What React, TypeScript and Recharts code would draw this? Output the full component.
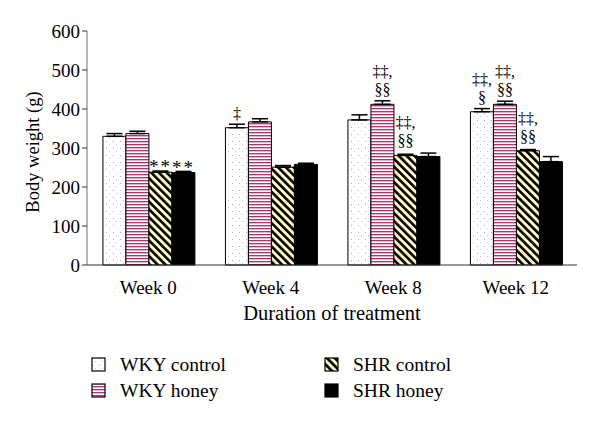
import React from 'react';
import {
  BarChart,
  Bar,
  XAxis,
  YAxis,
  ErrorBar,
  LabelList,
  Legend,
} from 'recharts';

const WEEKS = ['Week 0', 'Week 4', 'Week 8', 'Week 12'];
const Y_TICKS = [0, 100, 200, 300, 400, 500, 600];
const BOUND_TICKS = [0, 1, 2, 3, 4];

// mean body weight (g)
const WKY_CONTROL = [330, 352, 372, 393];
const WKY_HONEY = [337, 367, 412, 412];
const SHR_CONTROL = [238, 251, 281, 293];
const SHR_HONEY = [237, 258, 278, 265];

// upper error (g)
const WKY_CONTROL_ERR = [7, 9, 13, 8];
const WKY_HONEY_ERR = [6, 8, 9, 8];
const SHR_CONTROL_ERR = [3, 4, 3, 3];
const SHR_HONEY_ERR = [3, 3, 9, 13];

// significance marks above bars
const WKY_CONTROL_NOTE = ['', '‡', '', '‡‡,\n§'];
const WKY_HONEY_NOTE = ['', '', '‡‡,\n§§', '‡‡,\n§§'];
const SHR_CONTROL_NOTE = ['**', '', '‡‡,\n§§', '‡‡,\n§§'];
const SHR_HONEY_NOTE = ['**', '', '', ''];

const SERIES = [
  { key: 'wkyControl', label: 'WKY control', fill: 'url(#dots)' },
  { key: 'wkyHoney', label: 'WKY honey', fill: 'url(#hstripes)' },
  { key: 'shrControl', label: 'SHR control', fill: 'url(#diag)' },
  { key: 'shrHoney', label: 'SHR honey', fill: '#000' },
];

const data = WEEKS.map((week, i) => ({
  week,
  wkyControl: WKY_CONTROL[i],
  wkyHoney: WKY_HONEY[i],
  shrControl: SHR_CONTROL[i],
  shrHoney: SHR_HONEY[i],
  wkyControlErr: [0, WKY_CONTROL_ERR[i]],
  wkyHoneyErr: [0, WKY_HONEY_ERR[i]],
  shrControlErr: [0, SHR_CONTROL_ERR[i]],
  shrHoneyErr: [0, SHR_HONEY_ERR[i]],
  wkyControlNote: WKY_CONTROL_NOTE[i],
  wkyHoneyNote: WKY_HONEY_NOTE[i],
  shrControlNote: SHR_CONTROL_NOTE[i],
  shrHoneyNote: SHR_HONEY_NOTE[i],
}));

const FONT = '"Liberation Serif", "DejaVu Serif", serif';

const NoteLabel = (props: any) => {
  const { x, y, width, value } = props;
  if (!value) return null;
  const cx = x + width / 2;
  if (value === '**') {
    return (
      <text x={cx} y={y + 1} textAnchor="middle" fontFamily={FONT} fontSize={19} letterSpacing={2} fill="#000">
        {value}
      </text>
    );
  }
  const lines = String(value).split('\n');
  const base = y - 9;
  return (
    <text textAnchor="middle" fontFamily={FONT} fontSize={16} fill="#000">
      {lines.map((ln, i) => (
        <tspan key={i} x={cx} y={base - (lines.length - 1 - i) * 18}>
          {ln}
        </tspan>
      ))}
    </text>
  );
};

const LegendBox = () => (
  <div
    style={{
      display: 'grid',
      gridTemplateColumns: '233px 200px',
      rowGap: 4,
      fontFamily: FONT,
      fontSize: 19.5,
      color: '#000',
    }}
  >
    {[SERIES[0], SERIES[2], SERIES[1], SERIES[3]].map((s) => (
      <div key={s.key} style={{ display: 'flex', alignItems: 'center', height: 22 }}>
        <svg width={16} height={16} style={{ marginRight: 13 }}>
          <rect x={1} y={1} width={13} height={13} fill={s.fill} stroke="#000" strokeWidth={1.2} />
        </svg>
        {s.label}
      </div>
    ))}
  </div>
);

export default function App() {
  return (
    <div style={{ position: 'absolute', left: 0, top: 0, width: 600, height: 422, background: '#fff' }}>
      <BarChart
        width={600}
        height={422}
        data={data}
        margin={{ top: 31, right: 23, left: 17, bottom: 97 }}
        barCategoryGap="13%"
        barGap={0}
      >
        <defs>
          <pattern id="dots" width={7} height={7} patternUnits="userSpaceOnUse">
            <rect width={7} height={7} fill="#fff" />
            <rect x={1} y={1} width={1} height={1} fill="#a8a4dc" />
            <rect x={4} y={4} width={1} height={1} fill="#c4c0e8" />
          </pattern>
          <pattern id="hstripes" width={4} height={3} patternUnits="userSpaceOnUse">
            <rect width={4} height={3} fill="#fff" />
            <rect y={0} width={4} height={1} fill="#a8386e" />
            <rect y={1} width={4} height={1} fill="#eab4cc" />
          </pattern>
          <pattern id="diag" width={5.5} height={5.5} patternUnits="userSpaceOnUse" patternTransform="rotate(-45)">
            <rect width={5.5} height={5.5} fill="#fffbc4" />
            <rect width={2.6} height={5.5} fill="#000" />
          </pattern>
        </defs>
        <XAxis
          xAxisId="bounds"
          type="number"
          domain={[0, 4]}
          ticks={BOUND_TICKS}
          tick={false}
          tickSize={4}
          axisLine={false}
          tickLine={{ stroke: '#333' }}
          height={0}
        />
        <XAxis
          dataKey="week"
          tickLine={false}
          axisLine={{ stroke: '#333' }}
          tickMargin={10}
          height={60}
          tick={{ fontFamily: FONT, fontSize: 19, fill: '#000' }}
          label={{
            value: 'Duration of treatment',
            position: 'insideBottom',
            offset: 5,
            style: { fontFamily: FONT, fontSize: 20.5, fill: '#000' },
          }}
        />
        <XAxis xAxisId="top" orientation="top" tick={false} tickLine={false} axisLine={{ stroke: '#999', strokeWidth: 1.5 }} height={0} />
        <YAxis
          domain={[0, 600]}
          ticks={Y_TICKS}
          width={70}
          tickSize={5}
          axisLine={{ stroke: '#6e6e6e' }}
          tickLine={{ stroke: '#333' }}
          tick={{ fontFamily: FONT, fontSize: 19, fill: '#000' }}
          label={{
            value: 'Body weight (g)',
            angle: -90,
            position: 'insideLeft',
            offset: 15,
            dy: 4,
            style: { fontFamily: FONT, fontSize: 18.5, fill: '#000', textAnchor: 'middle' },
          }}
        />
        <YAxis yAxisId="right" orientation="right" domain={[0, 600]} tick={false} tickLine={false} axisLine={{ stroke: '#999', strokeWidth: 1.5 }} width={0} />
        <Legend
          layout="vertical"
          align="center"
          verticalAlign="middle"
          content={LegendBox}
          wrapperStyle={{ position: 'absolute', top: 354, left: 91, width: 460 }}
        />
        {SERIES.map((s) => (
          <Bar
            key={s.key}
            dataKey={s.key}
            name={s.label}
            fill={s.fill}
            stroke="#000"
            strokeWidth={1}
            isAnimationActive={false}
          >
            <ErrorBar dataKey={`${s.key}Err`} width={8} stroke="#000" strokeWidth={1.5} direction="y" />
            <LabelList dataKey={`${s.key}Note`} content={NoteLabel} />
          </Bar>
        ))}
      </BarChart>
    </div>
  );
}
